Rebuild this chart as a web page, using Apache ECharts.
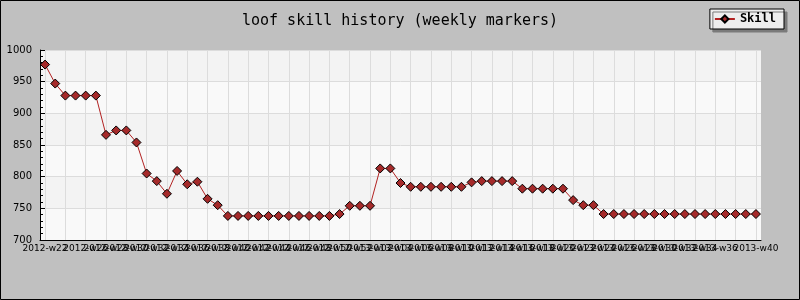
<!DOCTYPE html>
<html>
<head>
<meta charset="utf-8">
<script src="https://cdn.jsdelivr.net/npm/echarts@6/dist/echarts.min.js"></script>
<style>
  html, body { margin: 0; padding: 0; background: #c0c0c0; }
  #chart { width: 800px; height: 300px; }
</style>
</head>
<body>
<div id="chart"></div>
<script>
// Week labels, one per data point
const weeks = [
  '2012-w22','2012-w23','2012-w24','2012-w25','2012-w26','2012-w27','2012-w28','2012-w29',
  '2012-w30','2012-w31','2012-w32','2012-w33','2012-w34','2012-w35','2012-w36','2012-w37',
  '2012-w38','2012-w39','2012-w40','2012-w41','2012-w42','2012-w43','2012-w44','2012-w45',
  '2012-w46','2012-w47','2012-w48','2012-w49','2012-w50','2012-w51','2012-w52',
  '2013-w01','2013-w02','2013-w03','2013-w04','2013-w05','2013-w06','2013-w07','2013-w08',
  '2013-w09','2013-w10','2013-w11','2013-w12','2013-w13','2013-w14','2013-w15','2013-w16',
  '2013-w17','2013-w18','2013-w19','2013-w20','2013-w21','2013-w22','2013-w23','2013-w24',
  '2013-w25','2013-w26','2013-w27','2013-w28','2013-w29','2013-w30','2013-w31','2013-w32',
  '2013-w33','2013-w34','2013-w35','2013-w36','2013-w37','2013-w38','2013-w39','2013-w40'
];

// Skill rating at each weekly marker
const skill = [
  977, 947, 928, 928, 928, 928, 866, 873, 873, 854,
  805, 793, 773, 809, 788, 792, 765, 755, 738, 738,
  738, 738, 738, 738, 738, 738, 738, 738, 738, 741,
  754, 754, 754, 813, 813, 790, 784, 784, 784, 784,
  784, 784, 791, 793, 793, 793, 793, 781, 781, 781,
  781, 781, 763, 755, 755, 741, 741, 741, 741, 741,
  741, 741, 741, 741, 741, 741, 741, 741, 741, 741,
  741
];

// Value axis range
const yMin = 700;
const yMax = 1000;
const yStep = 50;

const chart = echarts.init(document.getElementById('chart'), null, { renderer: 'canvas' });

chart.setOption({
  animation: false,
  backgroundColor: '#c0c0c0',
  title: {
    text: 'loof skill history (weekly markers)',
    left: 'center',
    top: 9,
    textStyle: {
      fontFamily: 'DejaVu Sans Mono',
      fontSize: 15,
      fontWeight: 'normal',
      color: '#000'
    }
  },
  legend: {
    data: ['Skill'],
    right: 16,
    top: 9,
    itemWidth: 20,
    itemHeight: 9,
    padding: [4, 8, 4, 4],
    backgroundColor: '#eeeeee',
    borderColor: '#000',
    borderWidth: 1,
    shadowColor: '#7a7a7a',
    shadowOffsetX: 3,
    shadowOffsetY: 3,
    shadowBlur: 0,
    textStyle: {
      fontFamily: 'DejaVu Sans Mono',
      fontSize: 12,
      fontWeight: 'bold',
      color: '#000'
    }
  },
  grid: {
    left: 40,
    right: 39,
    top: 50,
    bottom: 60,
    show: true,
    backgroundColor: '#f9f9f9',
    borderWidth: 0
  },
  xAxis: {
    type: 'category',
    data: weeks,
    boundaryGap: true,
    axisLine: { lineStyle: { color: '#000', width: 1 } },
    axisTick: {
      inside: true,
      alignWithLabel: true,
      interval: 1,
      length: 5,
      lineStyle: { color: '#000' }
    },
    axisLabel: {
      interval: 1,
      showMinLabel: true,
      showMaxLabel: true,
      hideOverlap: false,
      margin: 4,
      fontFamily: 'DejaVu Sans',
      fontSize: 9,
      color: '#000'
    },
    splitLine: {
      show: true,
      interval: 1,
      alignWithLabel: true,
      lineStyle: { color: '#dcdcdc', width: 1 }
    }
  },
  yAxis: {
    type: 'value',
    min: yMin,
    max: yMax,
    interval: yStep,
    axisLine: { show: true, lineStyle: { color: '#000', width: 1 } },
    axisTick: { show: true, inside: true, length: 5, lineStyle: { color: '#000' } },
    minorTick: { show: true, splitNumber: 5, length: 3, lineStyle: { color: '#000' } },
    axisLabel: {
      margin: 8,
      fontFamily: 'DejaVu Sans',
      fontSize: 10,
      color: '#000',
      formatter: (v) => String(v)
    },
    splitLine: { show: true, lineStyle: { color: '#dcdcdc', width: 1 } },
    splitArea: { show: true, areaStyle: { color: ['#f9f9f9', '#f3f3f3'] } }
  },
  series: [{
    name: 'Skill',
    type: 'line',
    data: skill,
    symbol: 'diamond',
    symbolSize: 9,
    showAllSymbol: true,
    lineStyle: { color: '#b22222', width: 1 },
    itemStyle: { color: '#a52a2a', borderColor: '#000', borderWidth: 1 },
    emphasis: { disabled: true }
  }],
  graphic: [{
    type: 'rect',
    silent: true,
    z: 100,
    shape: { x: 0.5, y: 0.5, width: 799, height: 299 },
    style: { fill: null, stroke: '#000', lineWidth: 1 }
  }]
});
</script>
</body>
</html>
